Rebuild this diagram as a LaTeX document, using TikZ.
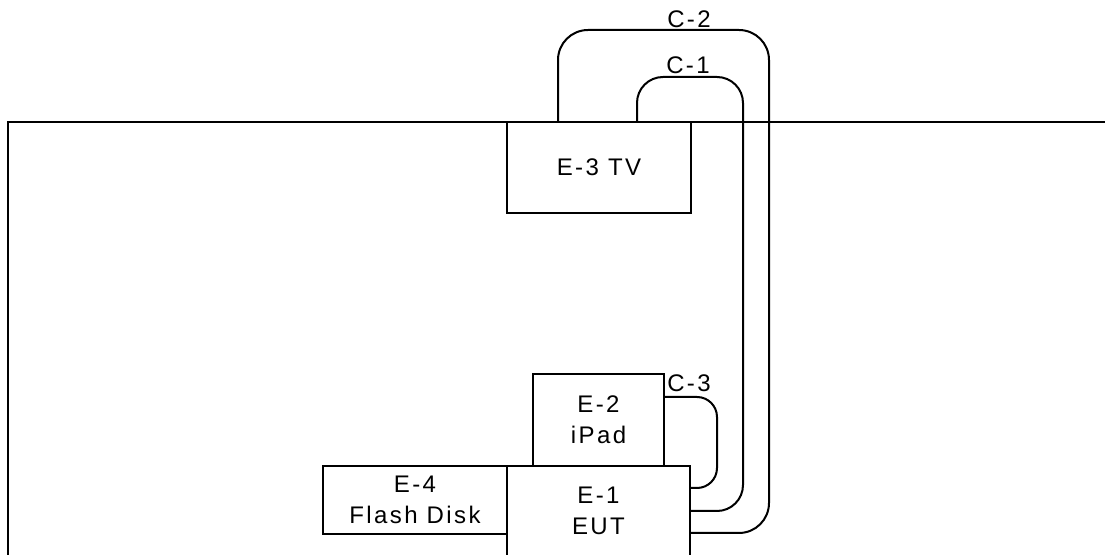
\documentclass[tikz,border=0pt]{standalone}
\usepackage{fontspec}
\setmainfont{Liberation Sans}[LetterSpace=10]
\usetikzlibrary{positioning,calc}

\tikzset{
  unit/.style={draw, line width=1pt, inner sep=0pt, align=center, font=\fontsize{12}{15.5}\selectfont},
  cable/.style={line width=1pt},
  cablelbl/.style={font=\fontsize{12}{14}\selectfont, inner sep=0pt}
}

\begin{document}
\begin{tikzpicture}[x=0.5pt, y=-0.5pt]
  \useasboundingbox (0,0) rectangle (1105,555);
  \clip (0,0) rectangle (1105,555);

  % table edge
  \draw[line width=1pt] (8,560) -- (8,122) -- (1110,122);

  % units
  \node[unit, minimum width=92pt, minimum height=45.5pt] (tv) at (599,167.5) {E-3 TV};
  \node[unit, minimum width=65.5pt, minimum height=46pt] (ipad) at (598.5,420) {E-2\\iPad};
  \node[unit, minimum width=91.5pt, minimum height=45pt] (eut) at (598.5,511) {E-1\\EUT};
  \node[unit, minimum width=92pt, minimum height=34pt] (disk) at (415,500) {E-4\\Flash Disk};

  % cable bends
  \coordinate (c2top) at (769,30);
  \coordinate (c2bot) at (769,533);
  \coordinate (c1top) at (743,77);
  \coordinate (c3top) at (717,397);
  \coordinate (c3bot) at (717,488);

  % cables
  \draw[cable, rounded corners=15pt] ([xshift=26pt]tv.north west) |- (c2top) |- (eut.east |- c2bot);
  \draw[cable, rounded corners=13pt] ([xshift=65.5pt]tv.north west) |- (c1top) |- (eut.east);
  \draw[cable, rounded corners=10pt] (ipad.east |- c3top) -- (c3top) -- (c3bot) -- (eut.east |- c3bot);

  % cable labels
  \node[cablelbl] (lc2) at (689,19) {C-2};
  \node[cablelbl] (lc1) at (688,65) {C-1};
  \node[cablelbl] (lc3) at (689,383) {C-3};
\end{tikzpicture}
\end{document}
